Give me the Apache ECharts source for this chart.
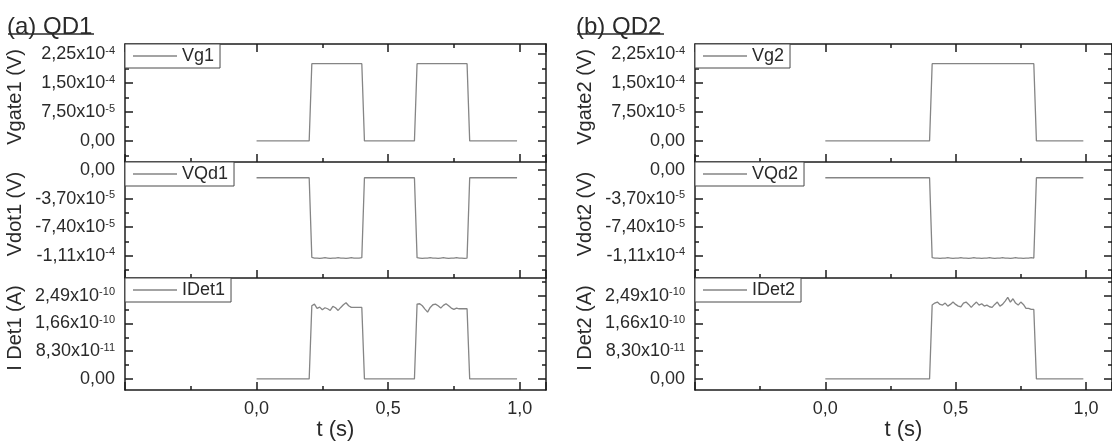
<!DOCTYPE html>
<html><head><meta charset="utf-8">
<script src="https://cdn.jsdelivr.net/npm/echarts@6/dist/echarts.min.js"></script>
<style>html,body{margin:0;padding:0;background:#fff}#c{width:1112px;height:442px}</style>
</head><body><div id="c"></div>
<script>
// ---------- data ----------
const tGate1 = [0, 0.20, 0.21, 0.40, 0.41, 0.60, 0.61, 0.80, 0.81, 0.99];
const vGate1 = [0, 0, 2.0e-4, 2.0e-4, 0, 0, 2.0e-4, 2.0e-4, 0, 0];

const tQD1 = [0, 0.20,
  0.21, 0.22, 0.23, 0.24, 0.25, 0.26, 0.27, 0.28, 0.29, 0.30,
  0.31, 0.32, 0.33, 0.34, 0.35, 0.36, 0.37, 0.38, 0.39, 0.40,
  0.41, 0.60,
  0.61, 0.62, 0.63, 0.64, 0.65, 0.66, 0.67, 0.68, 0.69, 0.70,
  0.71, 0.72, 0.73, 0.74, 0.75, 0.76, 0.77, 0.78, 0.79, 0.80,
  0.81, 0.99];
const vDot1 = [-1.0e-5, -1.0e-5,
  -1.13e-4, -1.14e-4, -1.14e-4, -1.145e-4, -1.14e-4, -1.135e-4, -1.14e-4, -1.145e-4, -1.14e-4, -1.14e-4,
  -1.135e-4, -1.14e-4, -1.14e-4, -1.145e-4, -1.14e-4, -1.135e-4, -1.14e-4, -1.14e-4, -1.14e-4, -1.135e-4,
  -1.0e-5, -1.0e-5,
  -1.135e-4, -1.14e-4, -1.145e-4, -1.14e-4, -1.14e-4, -1.135e-4, -1.14e-4, -1.14e-4, -1.145e-4, -1.14e-4,
  -1.135e-4, -1.14e-4, -1.145e-4, -1.14e-4, -1.14e-4, -1.135e-4, -1.14e-4, -1.14e-4, -1.145e-4, -1.14e-4,
  -1.0e-5, -1.0e-5];
const iDet1 = [0, 0,
  2.19e-10, 2.24e-10, 2.11e-10, 2.15e-10, 2.07e-10, 2.13e-10, 2.10e-10, 2.05e-10, 2.17e-10, 2.13e-10,
  2.05e-10, 2.14e-10, 2.22e-10, 2.28e-10, 2.19e-10, 2.14e-10, 2.14e-10, 2.14e-10, 2.14e-10, 2.14e-10,
  0, 0,
  2.24e-10, 2.25e-10, 2.19e-10, 2.09e-10, 2.00e-10, 2.14e-10, 2.22e-10, 2.24e-10, 2.19e-10, 2.12e-10,
  2.20e-10, 2.25e-10, 2.19e-10, 2.12e-10, 2.08e-10, 2.12e-10, 2.10e-10, 2.10e-10, 2.10e-10, 2.10e-10,
  0, 0];

const tGate2 = [0, 0.40, 0.41, 0.80, 0.81, 0.99];
const vGate2 = [0, 0, 2.0e-4, 2.0e-4, 0, 0];

const tQD2 = [0, 0.40,
  0.41, 0.42, 0.43, 0.44, 0.45, 0.46, 0.47, 0.48, 0.49, 0.50,
  0.51, 0.52, 0.53, 0.54, 0.55, 0.56, 0.57, 0.58, 0.59, 0.60,
  0.61, 0.62, 0.63, 0.64, 0.65, 0.66, 0.67, 0.68, 0.69, 0.70,
  0.71, 0.72, 0.73, 0.74, 0.75, 0.76, 0.77, 0.78, 0.79, 0.80,
  0.81, 0.99];
const vDot2 = [-1.0e-5, -1.0e-5,
  -1.135e-4, -1.14e-4, -1.14e-4, -1.145e-4, -1.14e-4, -1.14e-4, -1.135e-4, -1.14e-4, -1.145e-4, -1.14e-4,
  -1.14e-4, -1.135e-4, -1.14e-4, -1.14e-4, -1.145e-4, -1.14e-4, -1.135e-4, -1.14e-4, -1.14e-4, -1.145e-4,
  -1.14e-4, -1.14e-4, -1.135e-4, -1.14e-4, -1.145e-4, -1.14e-4, -1.14e-4, -1.135e-4, -1.14e-4, -1.14e-4,
  -1.145e-4, -1.14e-4, -1.135e-4, -1.14e-4, -1.14e-4, -1.145e-4, -1.14e-4, -1.14e-4, -1.135e-4, -1.14e-4,
  -1.0e-5, -1.0e-5];
const iDet2 = [0, 0,
  2.21e-10, 2.27e-10, 2.30e-10, 2.23e-10, 2.21e-10, 2.27e-10, 2.18e-10, 2.23e-10, 2.30e-10, 2.23e-10,
  2.18e-10, 2.16e-10, 2.27e-10, 2.30e-10, 2.23e-10, 2.14e-10, 2.23e-10, 2.30e-10, 2.21e-10, 2.25e-10,
  2.18e-10, 2.21e-10, 2.16e-10, 2.14e-10, 2.23e-10, 2.30e-10, 2.18e-10, 2.23e-10, 2.33e-10, 2.44e-10,
  2.30e-10, 2.40e-10, 2.27e-10, 2.21e-10, 2.30e-10, 2.23e-10, 2.11e-10, 2.11e-10, 2.08e-10, 2.08e-10,
  0, 0];

// axis ticks
const xTickValues = [0, 0.5, 1.0];
const gateTicks = [0, 7.5e-5, 1.5e-4, 2.25e-4];
const gateMinor = [-3.75e-5, 3.75e-5, 1.125e-4, 1.875e-4];
const gateRange = [-5.45e-5, 2.51e-4];
const dotTicks = [-1.11e-4, -7.4e-5, -3.7e-5, 0];
const dotMinor = [-1.295e-4, -9.25e-5, -5.55e-5, -1.85e-5];
const dotRange = [-1.398e-4, 1.04e-5];
const detTicks = [0, 8.3e-11, 1.66e-10, 2.49e-10];
const detMinor = [4.15e-11, 1.245e-10, 2.075e-10, 2.905e-10];
const detRange = [-3.33e-11, 3.02e-10];

const titles = ['(a) QD1', '(b) QD2'];
const xName = 't (s)';

// ---------- chart ----------
const FONT = "'Liberation Sans', Arial, sans-serif";
const TXT = '#2a2a2a';
const LINE = '#858585';
const FRAME = {color: '#1c1c1c', width: 1.5};

const panels = [
  {col: 0, row: 0, t: tGate1, v: vGate1, name: 'Vg1',   yName: 'Vgate1 (V)', ticks: gateTicks, minor: gateMinor, range: gateRange},
  {col: 0, row: 1, t: tQD1,   v: vDot1,  name: 'VQd1',  yName: 'Vdot1 (V)',  ticks: dotTicks,  minor: dotMinor,  range: dotRange},
  {col: 0, row: 2, t: tQD1,   v: iDet1,  name: 'IDet1', yName: 'I Det1 (A)', ticks: detTicks,  minor: detMinor,  range: detRange},
  {col: 1, row: 0, t: tGate2, v: vGate2, name: 'Vg2',   yName: 'Vgate2 (V)', ticks: gateTicks, minor: gateMinor, range: gateRange},
  {col: 1, row: 1, t: tQD2,   v: vDot2,  name: 'VQd2',  yName: 'Vdot2 (V)',  ticks: dotTicks,  minor: dotMinor,  range: dotRange},
  {col: 1, row: 2, t: tQD2,   v: iDet2,  name: 'IDet2', yName: 'I Det2 (A)', ticks: detTicks,  minor: detMinor,  range: detRange}
];

const colLeft = [125, 695];
const colWidth = [421, 422];
const rowTop = [44, 162, 278];
const rowHeight = [118, 116, 117];

function sci(v) {
  if (Math.abs(v) < 1e-25) return '{m|0,00}';
  const e = Math.floor(Math.log10(Math.abs(v)) + 1e-9);
  const m = (v / Math.pow(10, e)).toFixed(2).replace('.', ',');
  return '{m|' + m + 'x10}{s|' + e + '}';
}

const grid = [], xAxis = [], yAxis = [], series = [], legend = [];
panels.forEach((p, i) => {
  grid.push({left: colLeft[p.col], top: rowTop[p.row], width: colWidth[p.col], height: rowHeight[p.row], containLabel: false});
  const xBase = {
    type: 'value', gridIndex: i, min: -0.5, max: 1.1, interval: 0.5,
    axisLine: {show: true, onZero: false, lineStyle: FRAME},
    axisTick: {show: true, inside: true, length: 8, lineStyle: FRAME},
    minorTick: {show: true, splitNumber: 2, length: 4, lineStyle: FRAME},
    splitLine: {show: false}, minorSplitLine: {show: false}
  };
  const xi = xAxis.length;
  xAxis.push(Object.assign({}, xBase, {
    position: 'bottom',
    axisLabel: {show: p.row === 2, customValues: xTickValues, margin: 10,
      formatter: v => v.toFixed(1).replace('.', ','), fontSize: 18, color: TXT, fontFamily: FONT},
    name: p.row === 2 ? xName : '', nameLocation: 'middle', nameGap: 19,
    nameTextStyle: {fontSize: 22, color: TXT, fontFamily: FONT}
  }));
  if (p.row === 0) {
    xAxis.push(Object.assign({}, xBase, {position: 'top', axisLabel: {show: false}}));
  }
  const yBase = {type: 'value', gridIndex: i, min: p.range[0], max: p.range[1], splitLine: {show: false}};
  const yi = yAxis.length;
  yAxis.push(Object.assign({}, yBase, {
    position: 'left',
    axisLine: {show: true, onZero: false, lineStyle: FRAME},
    axisTick: {show: true, inside: true, length: 8, lineStyle: FRAME, customValues: p.ticks},
    axisLabel: {show: true, customValues: p.ticks, formatter: sci, margin: 10,
      rich: {
        m: {fontSize: 18, color: TXT, fontFamily: FONT, lineHeight: 18},
        s: {fontSize: 11, color: TXT, fontFamily: FONT, verticalAlign: 'top', lineHeight: 11}
      }},
    name: p.yName, nameLocation: 'middle', nameRotate: 90, nameGap: 100,
    nameTextStyle: {fontSize: 20, color: TXT, fontFamily: FONT, padding: [0, 0, 0, 12]}
  }));
  yAxis.push(Object.assign({}, yBase, {
    position: 'left', axisLine: {show: false, onZero: false},
    axisTick: {show: true, inside: true, length: 4, lineStyle: FRAME, customValues: p.minor},
    axisLabel: {show: false}
  }));
  yAxis.push(Object.assign({}, yBase, {
    position: 'right', axisLine: {show: true, onZero: false, lineStyle: FRAME},
    axisTick: {show: true, inside: true, length: 8, lineStyle: FRAME, customValues: p.ticks},
    axisLabel: {show: false}
  }));
  yAxis.push(Object.assign({}, yBase, {
    position: 'right', axisLine: {show: false, onZero: false},
    axisTick: {show: true, inside: true, length: 4, lineStyle: FRAME, customValues: p.minor},
    axisLabel: {show: false}
  }));
  series.push({
    type: 'line', name: p.name, xAxisIndex: xi, yAxisIndex: yi,
    data: p.t.map((t, k) => [t, p.v[k]]),
    symbol: 'none', showSymbol: false,
    itemStyle: {color: LINE}, lineStyle: {color: LINE, width: 1.3},
    emphasis: {disabled: true}
  });
  legend.push({
    data: [{name: p.name, icon: 'rect'}], left: colLeft[p.col], top: rowTop[p.row], orient: 'horizontal',
    padding: [3, 6, 3, 8], itemWidth: 44, itemHeight: 1.3, itemGap: 0,
    selectedMode: false, backgroundColor: '#fff', borderColor: '#4a4a4a', borderWidth: 1, borderRadius: 0,
    itemStyle: {color: LINE, borderWidth: 0},
    textStyle: {fontSize: 18, color: TXT, fontFamily: FONT, lineHeight: 18}
  });
});

const option = {
  animation: false,
  backgroundColor: '#fff',
  title: titles.map((t, k) => ({
    text: t, left: k === 0 ? 7 : 576, top: 15, padding: 0,
    textStyle: {fontSize: 24, fontWeight: 'normal', color: TXT, fontFamily: FONT}
  })),
  graphic: [
    {type: 'line', shape: {x1: 8, y1: 34, x2: 94, y2: 34}, style: {stroke: TXT, lineWidth: 1.3}},
    {type: 'line', shape: {x1: 577, y1: 34, x2: 664, y2: 34}, style: {stroke: TXT, lineWidth: 1.3}}
  ],
  grid, xAxis, yAxis, series, legend
};

const chart = echarts.init(document.getElementById('c'), null, {renderer: 'canvas'});
chart.setOption(option);
</script>
</body></html>
